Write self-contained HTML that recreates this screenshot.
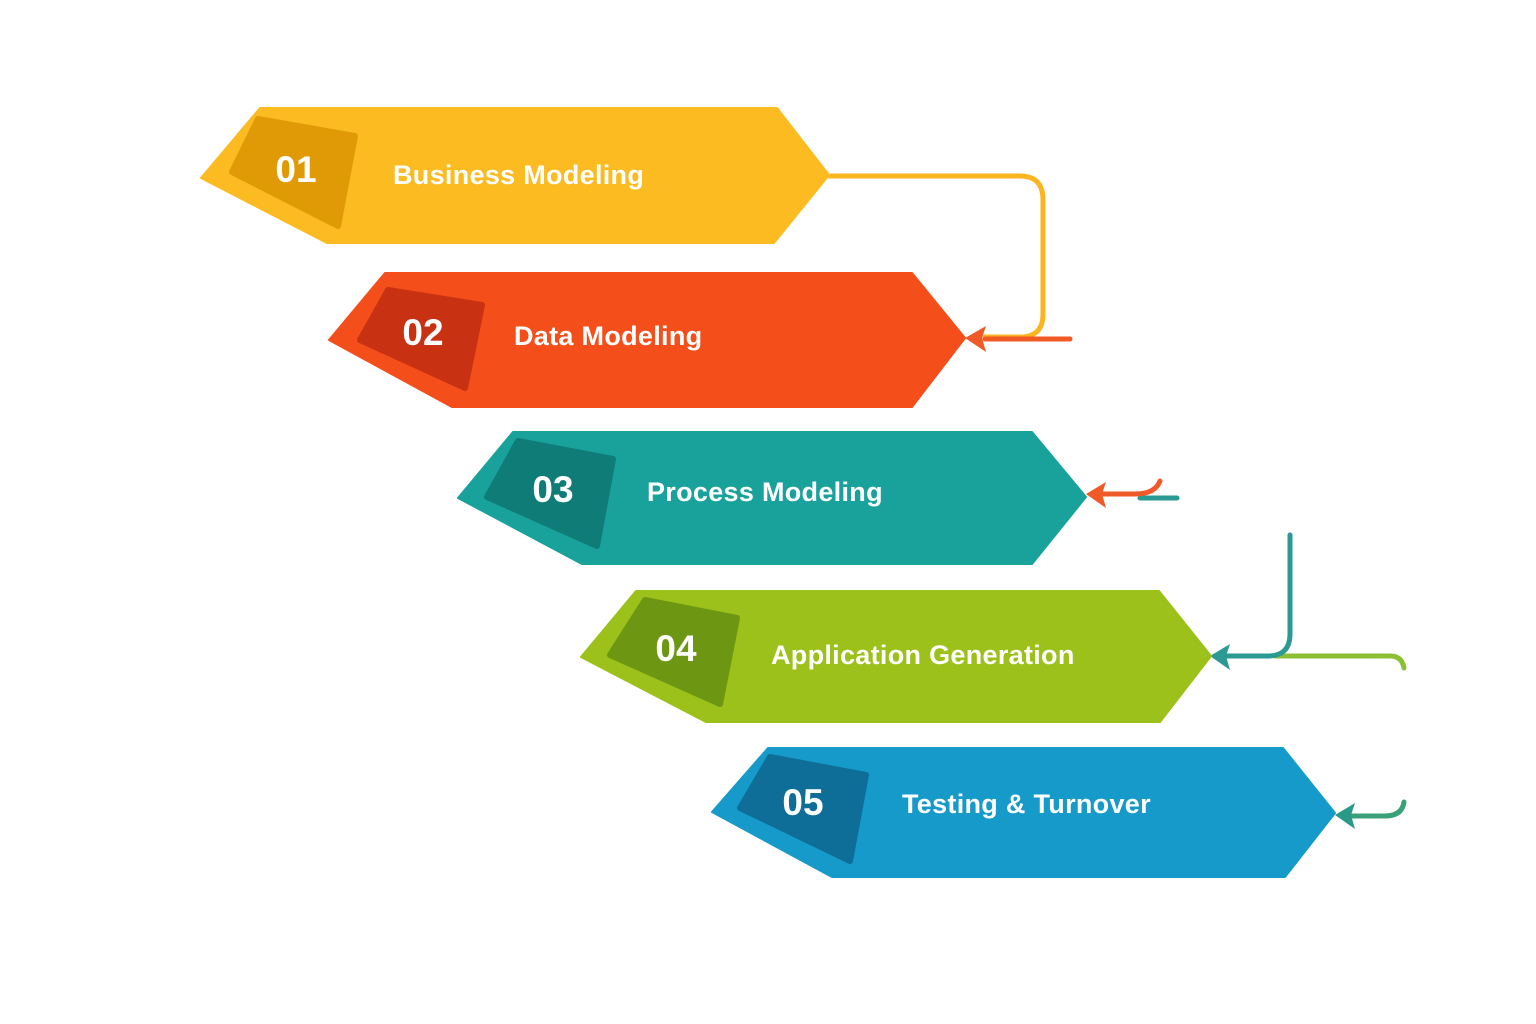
<!DOCTYPE html>
<html><head><meta charset="utf-8"><style>
html,body{margin:0;padding:0;background:#fff;}
svg{display:block}
text{font-family:"Liberation Sans",sans-serif;font-weight:bold;fill:#fff}
</style></head><body>
<svg width="1536" height="1024" viewBox="0 0 1536 1024" xmlns="http://www.w3.org/2000/svg">
<g stroke-linecap="round" stroke-linejoin="round" fill="none">
<path d="M829 176 H1020 Q1043 176 1043 200 V314 Q1043 337 1020 337 H985" stroke="#fbb520" stroke-width="5"/>
<path d="M985 339 H1070" stroke="#f15a24" stroke-width="5"/>
<path d="M1140 498 H1177" stroke="#2a9a92" stroke-width="5"/>
<path d="M1160 481 Q1155 494 1135 494 H1100" stroke="#f05a28" stroke-width="5"/>
<path d="M1275 656 H1390 Q1402 656 1404 668" stroke="#8dbf34" stroke-width="5"/>
<path d="M1290 535 V634 Q1290 656 1268 656 H1225" stroke="#2a9a92" stroke-width="5"/>
<path d="M1404 802 Q1402 816 1385 816 H1350" stroke="#3aa07a" stroke-width="5"/>
</g>
<polygon points="965,338 986,326 982,338 986,352" fill="#f05a28"/>
<polygon points="1086,494 1106,482 1102,494 1106,508" fill="#f05a28"/>
<polygon points="1210,656 1230,644 1226,656 1230,670" fill="#2a9a92"/>
<polygon points="1335,815 1355,803 1351,815 1355,829" fill="#2a9a88"/>

<polygon points="260,108 777,108 829,175 774,243 327,243 201,178" fill="#fbbb21" stroke="#fbbb21" stroke-width="2" stroke-linejoin="round"/>
<polygon points="258,119 355,136 338,226 232,172" fill="#e09a05" stroke="#e09a05" stroke-width="6" stroke-linejoin="round"/>
<text x="296" y="182" font-size="37" text-anchor="middle">01</text>
<text x="393" y="184" font-size="27" letter-spacing="0.3">Business Modeling</text>

<polygon points="385,273 912,273 965,338 912,407 452,407 329,340" fill="#f44e1b" stroke="#f44e1b" stroke-width="2" stroke-linejoin="round"/>
<polygon points="388,290 482,305 465,388 360,340" fill="#c83212" stroke="#c83212" stroke-width="6" stroke-linejoin="round"/>
<text x="423" y="345" font-size="37" text-anchor="middle">02</text>
<text x="514" y="345" font-size="27" letter-spacing="0.3">Data Modeling</text>

<polygon points="513,432 1032,432 1086,497 1032,564 582,564 458,498" fill="#19a29c" stroke="#19a29c" stroke-width="2" stroke-linejoin="round"/>
<polygon points="518,441 613,459 597,546 487,497" fill="#0f7c77" stroke="#0f7c77" stroke-width="6" stroke-linejoin="round"/>
<text x="553" y="502" font-size="37" text-anchor="middle">03</text>
<text x="647" y="501" font-size="27" letter-spacing="0.3">Process Modeling</text>

<polygon points="636,591 1159,591 1211,656 1160,722 706,722 581,657" fill="#9bc11a" stroke="#9bc11a" stroke-width="2" stroke-linejoin="round"/>
<polygon points="645,600 737,618 720,704 610,655" fill="#6d9612" stroke="#6d9612" stroke-width="6" stroke-linejoin="round"/>
<text x="676" y="661" font-size="37" text-anchor="middle">04</text>
<text x="771" y="664" font-size="27" letter-spacing="0.3">Application Generation</text>

<polygon points="768,748 1283,748 1335,813 1285,877 832,877 712,812" fill="#169ac9" stroke="#169ac9" stroke-width="2" stroke-linejoin="round"/>
<polygon points="770,757 866,775 850,861 740,808" fill="#0e6e97" stroke="#0e6e97" stroke-width="6" stroke-linejoin="round"/>
<text x="803" y="815" font-size="37" text-anchor="middle">05</text>
<text x="902" y="813" font-size="27" letter-spacing="0.3">Testing &amp; Turnover</text>
</svg>
</body></html>
